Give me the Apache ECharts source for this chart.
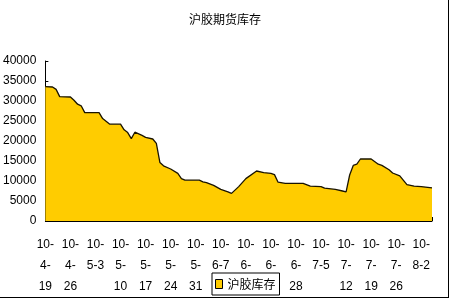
<!DOCTYPE html>
<html><head><meta charset="utf-8">
<script src="https://cdn.jsdelivr.net/npm/echarts@6/dist/echarts.min.js"></script>
<style>html,body{margin:0;padding:0;background:#fff}#c{width:450px;height:300px}</style>
</head><body><div id="c"></div>
<script>
// day offsets from 2010-04-19 and inventory values
const days = [0,2,3,4,7,8,9,10,11,15,16,18,21,22,23,24,25,27,28,30,31,32,33,35,37,38,39,43,44,45,47,49,51,52,54,56,59,61,63,64,65,67,72,74,77,78,81,83,84,85,86,87,88,91,93,94,96,97,99,101,103,105,108];
const stock = [33600,33500,32900,31100,31000,30200,29200,28800,27100,27100,25600,24200,24200,22800,22100,20600,22200,21400,20900,20500,19400,14600,13800,13000,11900,10600,10200,10200,9800,9600,8900,7900,7300,6900,8600,10600,12500,12100,11900,11600,9700,9400,9400,8700,8600,8200,7900,7500,7300,11500,13900,14200,15500,15500,14200,13900,12800,12000,11300,9100,8700,8600,8300];
const tickLabels = ['10-4-19','10-4-26','10-5-3','10-5-10','10-5-17','10-5-24','10-5-31','10-6-7','10-6-14','10-6-21','10-6-28','10-7-5','10-7-12','10-7-19','10-7-26','10-8-2'];
const seriesName = '沪胶库存';
const titleText = '沪胶期货库存';

function wrap(s){
  const p = s.split('-');
  if (p[2].length === 1) return p[0] + '-\n' + p[1] + '-' + p[2];
  return p[0] + '-\n' + p[1] + '-\n' + p[2];
}
const font = 'Liberation Sans';
const chart = echarts.init(document.getElementById('c'), null, {renderer:'canvas'});
chart.setOption({
  animation:false,
  backgroundColor:'#fff',
  title:{text:titleText,left:'center',top:8,textStyle:{fontSize:12,fontWeight:'normal',color:'#000',fontFamily:'Noto Sans CJK SC'}},
  grid:{left:41,right:18,top:61,bottom:79},
  legend:{
    left:212, top:273, padding:[5,4,5,3], itemWidth:7, itemHeight:9,
    backgroundColor:'#fff', borderColor:'#000', borderWidth:1, borderRadius:0,
    textStyle:{fontSize:12,color:'#000',fontFamily:'Noto Sans CJK SC'},
    data:[{name:seriesName,icon:'rect',itemStyle:{color:'#FFCC00',borderColor:'#000',borderWidth:1}}]
  },
  xAxis:{
    type:'value', min:0, max:108, interval:7,
    axisLine:{lineStyle:{color:'#000',width:1}},
    axisTick:{inside:true,length:4,lineStyle:{color:'#000'}},
    splitLine:{show:false},
    axisLabel:{
      margin:13, lineHeight:21, fontSize:12, color:'#000', fontFamily:font, showMaxLabel:true,
      formatter:function(v){ if (v % 7 !== 0) return ''; const i = v/7; return tickLabels[i] ? wrap(tickLabels[i]) : ''; }
    }
  },
  yAxis:{
    type:'value', min:0, max:40000, interval:5000,
    axisLine:{show:true,lineStyle:{color:'#000',width:1}},
    axisTick:{show:true,inside:true,length:3,lineStyle:{color:'#000'}},
    splitLine:{show:false},
    axisLabel:{margin:9,fontSize:12,color:'#000',fontFamily:font,formatter:function(v){return String(v);}}
  },
  series:[{
    name:seriesName, type:'line', symbol:'none',
    data: days.map((d,i)=>[d,stock[i]]),
    lineStyle:{color:'#1a1400',width:1.3},
    itemStyle:{color:'#FFCC00'},
    areaStyle:{color:'#FFCC00',opacity:1}
  }],
  graphic:[
    {type:'line',shape:{x1:448.5,y1:0,x2:448.5,y2:298},style:{stroke:'#000',lineWidth:1},z:100},
    {type:'line',shape:{x1:0,y1:297.5,x2:449,y2:297.5},style:{stroke:'#000',lineWidth:1},z:100}
  ]
});
</script></body></html>
